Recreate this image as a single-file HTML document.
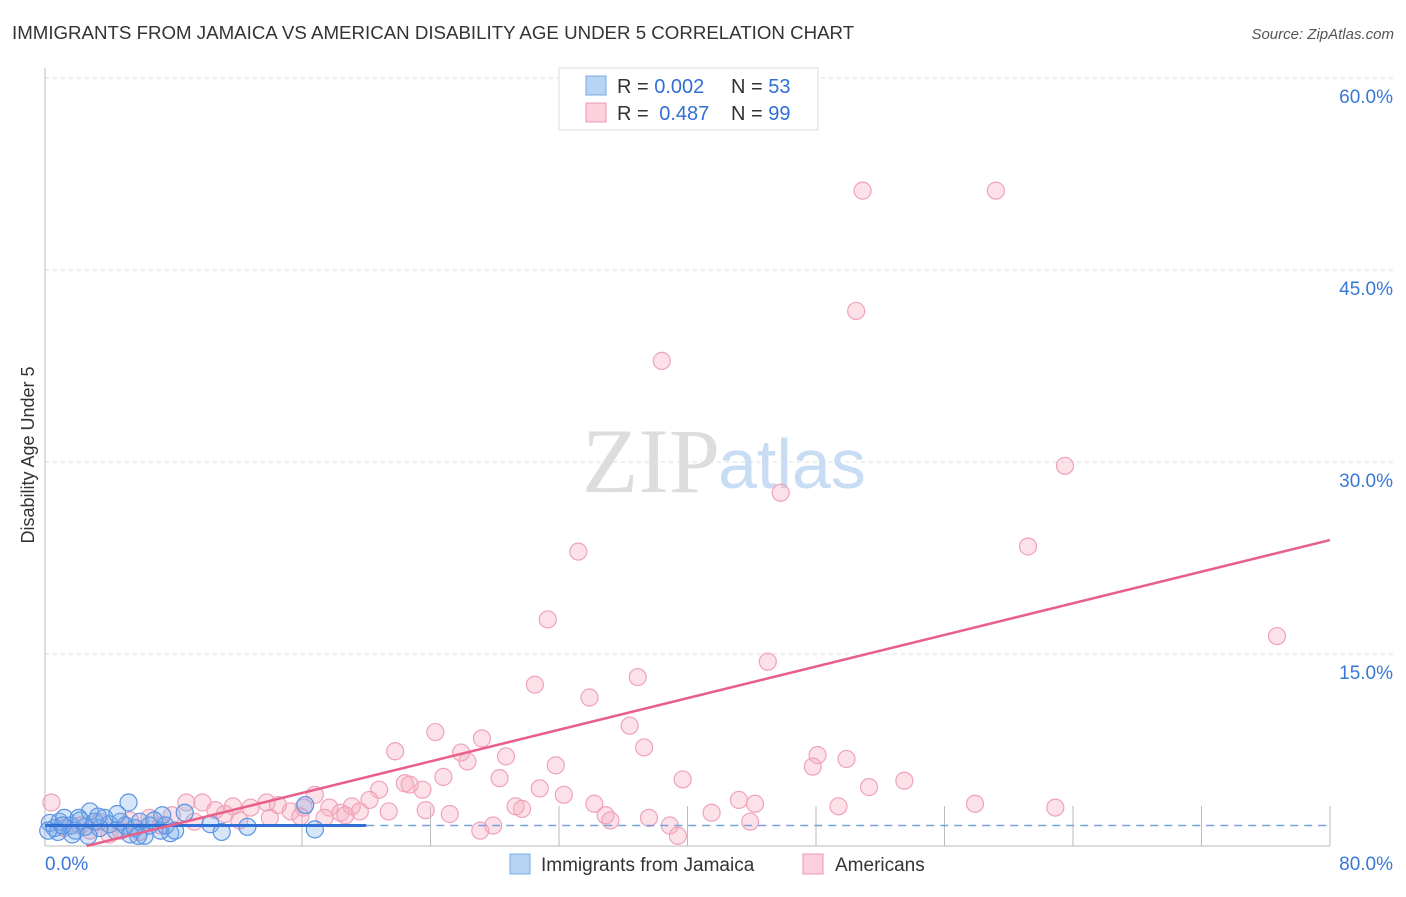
<!DOCTYPE html>
<html><head><meta charset="utf-8"><style>
body{margin:0;background:#fff;font-family:"Liberation Sans",sans-serif;}
</style></head><body>
<svg width="1406" height="892" xmlns="http://www.w3.org/2000/svg" font-family="Liberation Sans, sans-serif">
<text x="12" y="39" font-size="18.7" fill="#333">IMMIGRANTS FROM JAMAICA VS AMERICAN DISABILITY AGE UNDER 5 CORRELATION CHART</text>
<text x="1394" y="39" font-size="15" fill="#555" font-style="italic" text-anchor="end">Source: ZipAtlas.com</text>
<text x="34" y="455" font-size="18" fill="#333" transform="rotate(-90 34 455)" text-anchor="middle">Disability Age Under 5</text>
<g id="grid"></g>
<text x="720" y="492" font-size="92" fill="#ddd" text-anchor="end" font-family="Liberation Serif, serif">ZIP</text>
<text x="718" y="488" font-size="70" fill="#c8dcf4">atlas</text>
<g id="marks"></g>
<g>
<rect x="559" y="68" width="259" height="62" fill="#fff" stroke="#ddd"/>
<rect x="586" y="76" width="20" height="19" fill="#b8d4f4" stroke="#7aa8e0"/>
<rect x="586" y="103" width="20" height="19" fill="#fcd0dc" stroke="#ec98b0"/>
<text x="617" y="93" font-size="20" fill="#333">R = <tspan fill="#2f6fd6">0.002</tspan><tspan x="731">N = </tspan><tspan fill="#2f6fd6">53</tspan></text>
<text x="617" y="120" font-size="20" fill="#333">R = <tspan fill="#2f6fd6" dx="5">0.487</tspan><tspan x="731">N = </tspan><tspan fill="#2f6fd6">99</tspan></text>
</g>
<g>
<rect x="510" y="854" width="20" height="20" fill="#b8d4f4" stroke="#7aa8e0"/>
<text x="541" y="871" font-size="19" fill="#333">Immigrants from Jamaica</text>
<rect x="803" y="854" width="20" height="20" fill="#fcd0dc" stroke="#ec98b0"/>
<text x="835" y="871" font-size="19" fill="#333">Americans</text>
</g>
</svg>
<script>
const xTicks=[0,80];
const yTicks=[15,30,45,60];
const blueX=[5.2,16.2,8.7,7.3,10.3,12.6,16.8,11.0,7.8,0.3,0.6,0.9,1.2,1.6,1.9,2.2,2.5,2.8,3.1,3.4,3.7,4.0,4.4,4.7,5.0,5.3,5.6,5.9,6.2,6.5,6.8,7.2,7.5,8.1,0.8,1.7,2.7,3.3,4.5,5.8,0.2,1.1,2.1];
const blueY=[3.4,3.2,2.6,2.4,1.7,1.5,1.3,1.1,1.0,1.8,1.4,1.9,2.2,1.6,1.2,2.0,1.5,2.7,1.9,1.4,2.2,1.7,1.2,1.9,1.6,0.9,1.4,1.9,0.8,1.6,2.0,1.2,1.6,1.2,1.1,0.9,0.8,2.3,2.5,0.8,1.2,1.6,2.2];
const pinkX=[50.9,59.2,50.5,38.4,63.5,45.8,33.2,61.2,31.3,76.7,45.0,30.5,36.9,33.9,36.4,24.3,27.2,37.3,21.8,25.9,26.3,28.7,48.1,49.9,47.8,31.8,24.8,28.3,39.7,53.5,51.3,22.4,22.7,23.5,20.8,30.8,32.3,43.2,44.2,57.9,62.9,49.4,34.2,29.3,29.7,23.7,25.2,34.9,35.2,37.6,41.5,43.9,38.9,27.9,27.1,39.4,0.4,8.8,9.8,13.8,14.5,16.8,20.2,19.1,17.7,16.1,11.7,10.6,12.8,15.3,18.4,19.6,21.4,7.9,6.5,5.3,3.4,2.2,1.2,4.7,7.2,9.3,12.1,14.0,15.9,17.4,18.7,4.0,5.9,2.8,11.2];
const pinkY=[51.2,51.2,41.8,37.9,29.7,27.6,23.0,23.4,17.7,16.4,14.4,12.6,13.2,11.6,9.4,8.9,8.4,7.7,7.4,7.3,6.6,7.0,7.1,6.8,6.2,6.3,5.4,5.3,5.2,5.1,4.6,4.9,4.8,4.4,4.4,4.5,4.0,3.6,3.3,3.3,3.0,3.1,3.3,3.1,2.9,2.8,2.5,2.4,2.0,2.2,2.6,1.9,1.6,1.6,1.2,0.8,3.4,3.4,3.4,3.4,3.2,4.0,3.6,3.1,3.0,3.0,3.1,2.8,3.0,2.7,2.6,2.7,2.7,2.4,2.2,2.0,1.9,1.6,1.4,1.2,1.6,1.9,2.0,2.2,2.3,2.2,2.4,0.9,1.1,1.2,2.5];
const blueTrend=[0,1.6,20,1.6,80,1.6];
const pinkTrend=[0,-0.8,80,23.9];
const NS="http://www.w3.org/2000/svg";
const X=v=>45+v*1285/80, Y=v=>846-v*12.8;
const grid=document.getElementById('grid'), marks=document.getElementById('marks');
function mk(tag,attrs,parent){const e=document.createElementNS(NS,tag);for(const k in attrs)e.setAttribute(k,attrs[k]);parent.appendChild(e);return e;}
yTicks.forEach(t=>{
 const l=mk('line',{x1:45,x2:1394,y1:Y(t),y2:Y(t),stroke:'#ddd','stroke-dasharray':'4,4'},grid);
 
 
 const tx=mk('text',{x:1393,y:Y(t)+25,'font-size':19,fill:'#3a78d8','text-anchor':'end'},grid);
 tx.textContent=t.toFixed(1)+'%';
 
 
});
const ax=mk('line',{x1:45,x2:45,y1:68,y2:846,stroke:'#bbb'},grid);


const bx=mk('line',{x1:45,x2:1330,y1:846,y2:846,stroke:'#bbb'},grid);


for(let i=2;i<=10;i++){const t=mk('line',{x1:X(i*8),x2:X(i*8),y1:806,y2:846,stroke:'#bbb'},grid);
 
 }
xTicks.forEach((t,i)=>{const tx=mk('text',{x:i?1393:45,y:870,'font-size':19,fill:'#3a78d8','text-anchor':i?'end':'start'},grid);
 tx.textContent=t.toFixed(1)+'%';
 
 });
pinkX.forEach((v,i)=>{const c=mk('circle',{cx:X(v),cy:Y(pinkY[i]),r:8.5,fill:'rgba(246,170,192,0.35)',stroke:'#efa3ba','stroke-width':1.2},marks);
 
 });
blueX.forEach((v,i)=>{const c=mk('circle',{cx:X(v),cy:Y(blueY[i]),r:8.5,fill:'rgba(120,170,232,0.3)',stroke:'#5a94e2','stroke-width':1.2},marks);
 
 });
const bl=mk('line',{x1:X(blueTrend[0]),y1:Y(blueTrend[1]),x2:X(blueTrend[2]),y2:Y(blueTrend[3]),stroke:'#2f6fd6','stroke-width':3},marks);


const bd=mk('line',{x1:X(blueTrend[2]),y1:Y(blueTrend[3]),x2:X(blueTrend[4]),y2:Y(blueTrend[5]),stroke:'#7aa0dc','stroke-width':1.5,'stroke-dasharray':'8,6'},marks);


const x0=0.8/((pinkTrend[3]-pinkTrend[1])/80);
const pl=mk('line',{x1:X(Math.max(0,x0)),y1:Y(Math.max(0,pinkTrend[1])),x2:X(pinkTrend[2]),y2:Y(pinkTrend[3]),stroke:'#e8608a','stroke-width':2.5},marks);


</script>
</body></html>
